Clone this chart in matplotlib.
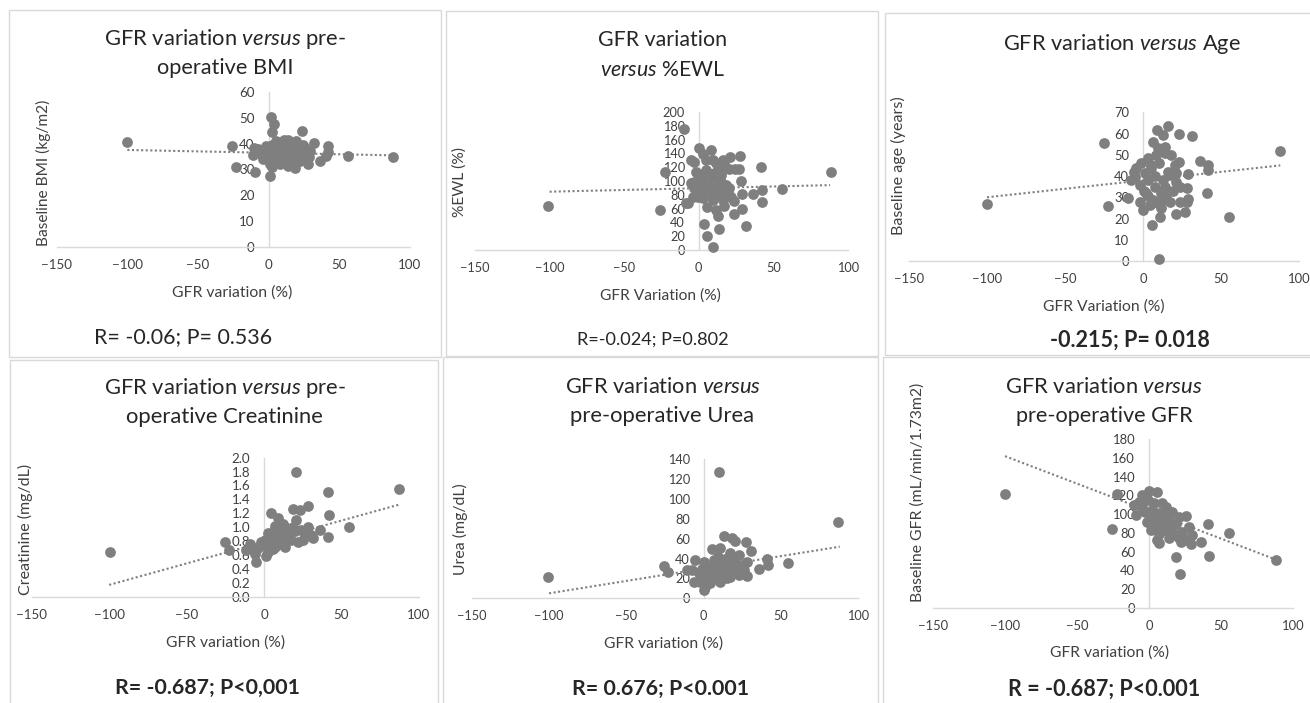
import numpy as np
import matplotlib
matplotlib.use('Agg')
import matplotlib.pyplot as plt
from matplotlib.patches import Rectangle

plt.rcParams['font.family'] = ['Lato', 'DejaVu Sans']
plt.rcParams['mathtext.fontset'] = 'custom'
plt.rcParams['mathtext.rm'] = 'Lato'
plt.rcParams['mathtext.it'] = 'Lato:italic'
plt.rcParams['mathtext.bf'] = 'Lato:bold'

# ---- data (GFR variation %, panel variable) ----
bmi_x = [-100, -25.7, -22.9, -9.9, 0.7, 2.4, -11, -10.6, -7.5, 1.9, 3.8, 2.6, 23.8, 31.8, 42, 42,
         40.8, 36.6, 56, 88.2, 27.8, 18.4, 28.5, 5.4, 13.7, 19.6, 24.3, 7.8, 11.3, 16, 21.9, 4.2,
         -2.8, -4, -0.5, 3.1, 14.9, 18.4, 25.5, 10.1, 7.8, 13.7, 20.8, 0.7, -1.7, 17.2, 6.6, 12.5,
         29, 9, 15.5, 22.5, 5.5, 1.5, 26, 10.5, -6, 8.5, 19, 2.5, 14]
bmi_y = [40.5, 39.3, 31, 29.1, 27.6, 31, 35.7, 38.3, 38, 50.3, 47.6, 44.4, 45, 40.3, 39, 36.7,
         35.3, 33.3, 35.3, 35, 32, 30.4, 34.7, 40.9, 41.3, 40.9, 39.6, 36.7, 34, 32.7, 33.3, 33.3,
         36.7, 34, 38.7, 35.3, 36.7, 38, 35.3, 38.7, 32, 31.3, 35.3, 32, 39.3, 40.3, 40.3, 37.3,
         37.3, 35.5, 34.5, 37.8, 38, 36, 38.5, 41.5, 36.5, 33.5, 36, 39.5, 39]
bmi_trend = [37.6, 35.5]

ewl_x = [-101, -22.9, -25.8, 88.7, 56, -8.4, -9.6, 0.4, 3.1, -5.1, -2.9, 9.3, 16, 21.1, 27.6, 24.2,
         27.1, 42, 28.2, 42.2, 36.4, 28.9, 42.2, 23.8, 28.9, 23.3, 12.7, 13.8, 31.6, 3.8, 5.6, 9.3,
         -7.3, -1.8, 4.9, 11.6, 16, -2.9, 2.7, 9.3, 14.9, 18.2, 0.4, 7.1, 13.8, 19.3, 2.7, 9.3,
         16, -0.7, 5.3, 11.6, 17.1, -4, -5.1, 4.9, 11.6, 8.2, 17.1, 20.4, 21.6, 6, 12, 1, 8, 15,
         -1, 10, 4, 20, -3]
ewl_y = [63.8, 112.6, 58, 112.6, 88, 67.6, 175, 148, 139, 131, 128, 130, 131, 135, 136, 118,
         118, 121, 100, 87, 81, 81, 70, 71.5, 60, 52, 49, 31, 35, 38, 20, 5,
         68, 113.5, 116, 113.5, 121, 99, 101, 104, 99, 94, 89, 87, 84.5, 82, 75, 72.5,
         72.5, 77, 63, 58, 64, 77, 96.6, 130, 125.6, 145, 125.6, 118, 77, 93, 92, 108, 110, 108,
         84, 78, 82, 90, 90]
ewl_trend = [84.5, 94]

age_x = [-100, -25.2, -22.4, -9.6, 9, 16, 12.8, 23.1, 31.6, 6.4, 36.3, 23.1, 41.7, 41.7, 28.8, 41,
         28.2, 28.8, 28.2, 23.5, 26.7, 20.9, 10.7, 6, 10.3, 55.1, 88, 0, 17.1, 11.8, -4.3, -1.1,
         3.2, 8.5, 13.9, 18.2, 9.6, 13.9, -5.3, -2.1, 3.2, 7.5, 12.8, 17.1, 21.4, 23.5, 2.1, 6.4,
         11.8, 15, -2.1, 4.3, 9.6, 16, 20.3, 5.3, 1.1, 21.4, -8, -6, 0.5, 5, 10, 14, 19, 8, 3, 12]
age_y = [26.9, 55.7, 25.9, 29.8, 61.7, 63.7, 59.3, 59.7, 59, 55.9, 47.1, 46.8, 45.2, 42.9, 40.8, 31.9,
         34.2, 29, 27.9, 27.9, 22.9, 22, 20.9, 17, 0.9, 20.9, 52, 24, 27.9, 24.8, 43.6, 46,
         48.4, 49.9, 50.7, 49.9, 53.1, 53.8, 39.7, 35.8, 38.1, 35, 38.1, 40.5, 37.4, 35, 31.9, 28.7,
         31.9, 31.1, 27.9, 26.4, 27.2, 42, 45.2, 43.6, 41.3, 41.3, 38, 42, 33, 45, 46, 35, 33, 40, 30.5, 28.5]
age_trend = [30, 45]

creat_x = [-99.5, -25.2, -22.8, 87.1, 54.8, -5.4, 20.9, 41.3, 28.4, 18.7, 23, 41.7, 4.3, 35.9, 41.3,
           31.6, 20.9, 9, 13.3, 6.9, 2.6, 11.2, 16.6, 24.1, 26.2, 21.9, 17.6, 13.3, 6.9, 2.6, -0.6,
           -3.9, -8.2, -11.4, -6, 1.5, 4.7, 9, 28.4, 30.5, 18.7, 12.3, 3.5, 8, 15, 10.5, 5.5, -2,
           20, 0.5, 7, 14.5, 25, -9]
creat_y = [0.64, 0.79, 0.67, 1.55, 1.01, 0.50, 1.79, 1.50, 1.31, 1.26, 1.25, 1.18, 1.20, 0.96, 0.86,
           0.85, 1.10, 1.13, 1.01, 0.98, 0.91, 0.89, 0.91, 0.96, 0.89, 0.79, 0.82, 0.72, 0.72, 0.65, 0.74,
           0.70, 0.72, 0.67, 0.62, 0.58, 0.79, 0.84, 1.01, 0.89, 1.01, 1.05, 0.85, 0.93, 0.85, 0.76, 0.68, 0.78,
           0.95, 0.82, 1.02, 0.97, 0.82, 0.76]
creat_trend = [0.17, 1.33]

urea_x = [-100.6, -25.8, -23, 87.1, 54.8, 35.5, 28, 9.7, 12.9, 20.4, 27.7, 30.3, 18.3, 40.9, 41.3, 0,
          -6.5, -10.8, 5.4, 10.8, 17.2, 22.6, -5.4, 0, 6.5, 12.9, 19.4, 24.7, 4.3, 9.7, 15.1, 20.4,
          25.8, -3.2, 2.2, 8.6, 15.1, -2.2, 4.3, 10.8, 1.1, 7.5, 28, -7.5, 17.2, 22.6, 3, 6, 12, 18,
          -1, 9, 14, 2, 23, 11]
urea_y = [21.7, 32.8, 26.2, 77.1, 35.2, 29.2, 22.5, 127.5, 63, 57.7, 56.4, 48, 60.4, 39.3, 33.6, 8.4,
          16.8, 28.5, 49.7, 50.3, 45.3, 43.6, 38.6, 36.9, 38.6, 36.9, 38.6, 33.6, 30.2, 28.5, 30.2, 26.8,
          28.5, 25.2, 23.5, 21.8, 20.1, 16.8, 15.1, 16.8, 11.7, 33.6, 36.9, 28.5, 21.8, 23.5, 27, 25, 25, 33,
          30, 42, 40, 19, 30, 33]
urea_trend = [5, 52]

gfr_x = [-100.3, -26, -22, 88, 55.5, 21.3, 18.5, 41.7, 41.2, 36.3, 28.9, 0, 5.8, -4.6, -10.4, -9.3,
         -1.2, 1.2, 5.8, 6.9, 11.6, 16.2, 20.8, 25.5, 13.9, 9.3, 18.5, 27.8, 23.1, 16.2, 10.4, 30.1,
         13.9, 20.8, 25.5, 22, 3.5, 6.9, -4.6, 2.3, -6.9, -1, 2, 8, 12, 4, 15, -3, 9, 19, 7]
gfr_y = [121.5, 83.8, 121.5, 51, 79.5, 36, 54.4, 55.5, 89.3, 70.5, 68, 124.9, 123.8, 120.3, 109.6, 98.9,
         91.8, 82.9, 72.2, 68.7, 107.8, 102.5, 97.2, 97.9, 93.6, 90, 90, 85.8, 81.1, 81.1, 82.9, 77.6,
         74, 74, 72.2, 70.5, 111.4, 100.7, 107.8, 97.2, 113.2, 115, 104, 95, 99, 88, 87, 102, 112, 78, 79]
gfr_trend = [162, 51.5]

trend_x = [-100, 88]
x_ticks = [-150, -100, -50, 0, 50, 100]

W, H = 1310, 703
fig = plt.figure(figsize=(W / 100, H / 100), dpi=100)
renderer = fig.canvas.get_renderer()

dot_color = '#7f7f7f'
line_color = '#d9d9d9'
txt_color = '#262626'
tick_color = '#404040'

def fx(px):
    return px / W

def fy(py):
    return 1 - py / H

def fit_text(x, y, s, target, rotation=0, **kw):
    # place text centred at pixel (x, y), sized so its extent matches target px
    t = fig.text(fx(x), fy(y), s, ha='center', va='center', rotation=rotation,
                 fontsize=10, **kw)
    bb = t.get_window_extent(renderer)
    size = bb.height if rotation else bb.width
    t.set_fontsize(10 * target / size)
    return t

def fit_size(s, target):
    t = fig.text(0, 0, s, fontsize=10)
    w = t.get_window_extent(renderer).width
    t.remove()
    return 10 * target / w

panels = [
    dict(x=bmi_x, y=bmi_y, trend=bmi_trend, ymax=60, ystep=10, fmt='{:.0f}',
         box=(56.7, 410, 246.7, 92.3), frame=(9, 10, 441, 357), tickw=28.3,
         title=['GFR variation $\\mathit{versus}$ pre-', 'operative BMI'],
         tpos=[(225, 39, 243.3), (225, 68, 136.7)],
         xlabel='GFR variation (%)', xlpos=(232, 293, 120),
         ylabel='Baseline BMI (kg/m2)', ylpos=(43, 173, 146.7),
         note='R= -0.06; P= 0.536', npos=(183, 337, 176.7), bold=False),
    dict(x=ewl_x, y=ewl_y, trend=ewl_trend, ymax=200, ystep=20, fmt='{:.0f}',
         box=(475, 848, 250, 112), frame=(446, 11, 878, 356), tickw=27,
         title=['GFR variation', '$\\mathit{versus}$ %EWL'],
         tpos=[(662.5, 40, 128.3), (663, 70, 126)],
         xlabel='GFR Variation (%)', xlpos=(660, 296, 120.7),
         ylabel='%EWL (%)', ylpos=(460, 182, 70),
         note='R=-0.024; P=0.802', npos=(653, 340, 152), bold=False),
    dict(x=age_x, y=age_y, trend=age_trend, ymax=70, ystep=10, fmt='{:.0f}',
         box=(909, 1299, 261, 112.3), frame=(885, 13, 1320, 355), tickw=27.5,
         title=['GFR variation $\\mathit{versus}$ Age'],
         tpos=[(1122, 44, 239)],
         xlabel='GFR Variation (%)', xlpos=(1104, 307, 121.7),
         ylabel='Baseline age (years)', ylpos=(898, 166, 138.3),
         note='-0.215; P= 0.018', npos=(1130, 340, 160), bold=True),
    dict(x=creat_x, y=creat_y, trend=creat_trend, ymax=2.0, ystep=0.2, fmt='{:.1f}',
         box=(31.7, 419, 596.7, 457.7), frame=(10, 360, 438, 710), tickw=28.3,
         title=['GFR variation $\\mathit{versus}$ pre-', 'operative Creatinine'],
         tpos=[(225, 388, 243.3), (224, 417, 198.3)],
         xlabel='GFR variation (%)', xlpos=(225.5, 643, 119),
         ylabel='Creatinine (mg/dL)', ylpos=(25, 529, 131.7),
         note='R= -0.687; P<0,001', npos=(207.5, 688, 185), bold=True),
    dict(x=urea_x, y=urea_y, trend=urea_trend, ymax=140, ystep=20, fmt='{:.0f}',
         box=(471.7, 858.3, 598.3, 459.3), frame=(443, 357, 878, 710), tickw=27,
         title=['GFR variation $\\mathit{versus}$', 'pre-operative Urea'],
         tpos=[(663, 387, 197.7), (662.5, 416, 185)],
         xlabel='GFR variation (%)', xlpos=(663.7, 644, 119.3),
         ylabel='Urea (mg/dL)', ylpos=(460, 529, 91.7),
         note='R= 0.676; P<0.001', npos=(660.5, 689, 177.7), bold=True),
    dict(x=gfr_x, y=gfr_y, trend=gfr_trend, ymax=180, ystep=20, fmt='{:.0f}',
         box=(933, 1293, 607.7, 439.3), frame=(883, 357, 1320, 710), tickw=27.5,
         title=['GFR variation $\\mathit{versus}$', 'pre-operative GFR'],
         tpos=[(1104, 387, 198.3), (1104.7, 416, 177.3)],
         xlabel='GFR variation (%)', xlpos=(1110, 653, 119.3),
         ylabel='Baseline GFR (mL/min/1.73m2)', ylpos=(918, 492.5, 218.3),
         note='R = -0.687; P<0.001', npos=(1104.5, 689, 192.3), bold=True),
]

for p in panels:
    # panel frame
    x0, y0, x1, y1 = p['frame']
    fig.patches.append(Rectangle((fx(x0), fy(y1)), fx(x1) - fx(x0), fy(y0) - fy(y1),
                                 transform=fig.transFigure, fill=False,
                                 edgecolor=line_color, lw=1))

    bl, br, by0, byt = p['box']
    ax = fig.add_axes([fx(bl), fy(by0), fx(br) - fx(bl), (by0 - byt) / H])
    ax.set_facecolor('none')
    ax.set_xlim(-150, 100)
    ax.set_ylim(0, p['ymax'])

    ax.scatter(p['x'], p['y'], s=60, color=dot_color, linewidths=0, zorder=3, clip_on=False)
    ax.plot(trend_x, p['trend'], color=dot_color, lw=1.5, linestyle=(0, (1, 1.2)), zorder=2.8)

    for side in ['top', 'right']:
        ax.spines[side].set_visible(False)
    ax.spines['left'].set_position(('data', 0))
    for side in ['left', 'bottom']:
        ax.spines[side].set_color(line_color)
        ax.spines[side].set_linewidth(1)

    ax.set_xticks(x_ticks)
    yt = np.arange(0, p['ymax'] + p['ystep'] / 2, p['ystep'])
    ax.set_yticks(yt)
    ax.set_yticklabels([p['fmt'].format(v) for v in yt])
    ts = fit_size('-150', p['tickw'])
    ax.tick_params(axis='x', length=0, pad=8.5, labelsize=ts, labelcolor=tick_color)
    ax.tick_params(axis='y', length=0, pad=10, labelsize=ts, labelcolor=tick_color)

    for line, (tx, ty, tw) in zip(p['title'], p['tpos']):
        fit_text(tx, ty, line, tw, color=txt_color)

    fit_text(p['xlpos'][0], p['xlpos'][1], p['xlabel'], p['xlpos'][2], color=tick_color)
    fit_text(p['ylpos'][0], p['ylpos'][1], p['ylabel'], p['ylpos'][2], rotation=90,
             color=tick_color)
    fit_text(p['npos'][0], p['npos'][1], p['note'], p['npos'][2], color=txt_color,
             fontweight='bold' if p['bold'] else 'normal')

fig.savefig('out.png', dpi=100, facecolor='white')
